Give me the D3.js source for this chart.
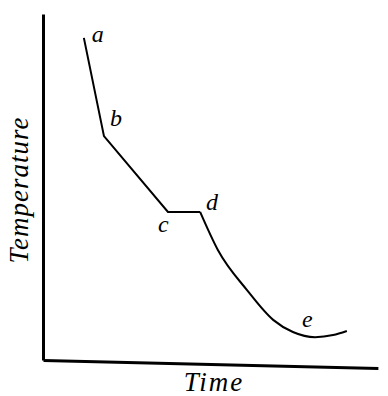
<!DOCTYPE html>
<html>
<head>
<meta charset="utf-8">
<script src="https://cdn.jsdelivr.net/npm/d3@7"></script>
<style>
  body { margin: 0; background: #fff; }
</style>
</head>
<body>
<div id="chart-area"></div>
<script>
// cooling curve, arbitrary units (0-100)
const time = [12.2, 18.2, 37.3, 46.9, 52.2, 60.9, 68.7, 74.6, 81.2, 86.6, 90.7];
const temperature = [93.1, 64.7, 42.8, 42.8, 31.8, 20.2, 11.6, 8.1, 6.6, 7.2, 8.4];
// point labels and the index of the point they belong to
const labels = ["a", "b", "c", "d", "e"];
const labelIndex = [0, 1, 2, 3, 8];
const labelOffset = [[8, 4], [6, -10], [-10, 20], [6, -2], [-13, -10]];

const width = 388, height = 396;
const margin = { left: 43, right: 10, top: 14, bottom: 36 };
const serif = "'Liberation Serif', 'DejaVu Serif', serif";

const svg = d3.select("#chart-area")
    .append("svg")
    .attr("width", width)
    .attr("height", height);

const x = d3.scaleLinear().domain([0, 100]).range([margin.left, width - margin.right]);
const y = d3.scaleLinear().domain([0, 100]).range([height - margin.bottom, margin.top]);

const pts = time.map((t, i) => [t, temperature[i]]);

// axes, no ticks (x axis is slightly tilted in the print)
const tilt = Math.atan2(8, x(100) - x(0)) * 180 / Math.PI;
svg.append("g")
    .attr("transform", `rotate(${tilt}, ${x(0)}, ${y(0)}) translate(0, ${y(0)})`)
    .call(d3.axisBottom(x).tickValues([]).tickSizeOuter(0))
    .selectAll("path")
    .style("stroke", "#000")
    .style("stroke-width", 3);

svg.append("g")
    .attr("transform", `translate(${x(0)}, 0)`)
    .call(d3.axisLeft(y).tickValues([]).tickSizeOuter(0))
    .selectAll("path")
    .style("stroke", "#000")
    .style("stroke-width", 3);

// straight part a-b-c-d
svg.append("path")
    .datum(pts.slice(0, 4))
    .attr("fill", "none")
    .attr("stroke", "#000")
    .attr("stroke-width", 2)
    .attr("d", d3.line().x(d => x(d[0])).y(d => y(d[1])));

// cooling curve after d
svg.append("path")
    .datum(pts.slice(3))
    .attr("fill", "none")
    .attr("stroke", "#000")
    .attr("stroke-width", 2)
    .attr("d", d3.line().x(d => x(d[0])).y(d => y(d[1])).curve(d3.curveMonotoneX));

svg.selectAll(".lbl")
    .data(labels)
    .enter().append("text")
    .attr("class", "lbl")
    .attr("x", (d, i) => x(time[labelIndex[i]]) + labelOffset[i][0])
    .attr("y", (d, i) => y(temperature[labelIndex[i]]) + labelOffset[i][1])
    .style("font-family", serif)
    .style("font-style", "italic")
    .style("font-size", "24px")
    .text(d => d);

svg.append("text")
    .attr("x", 214)
    .attr("y", 391)
    .attr("text-anchor", "middle")
    .style("font-family", serif)
    .style("font-style", "italic")
    .style("font-size", "27px")
    .style("letter-spacing", "2px")
    .text("Time");

svg.append("text")
    .attr("transform", "translate(28, 190) rotate(-90)")
    .attr("text-anchor", "middle")
    .style("font-family", serif)
    .style("font-style", "italic")
    .style("font-size", "27px")
    .style("letter-spacing", "1px")
    .text("Temperature");
</script>
</body>
</html>
